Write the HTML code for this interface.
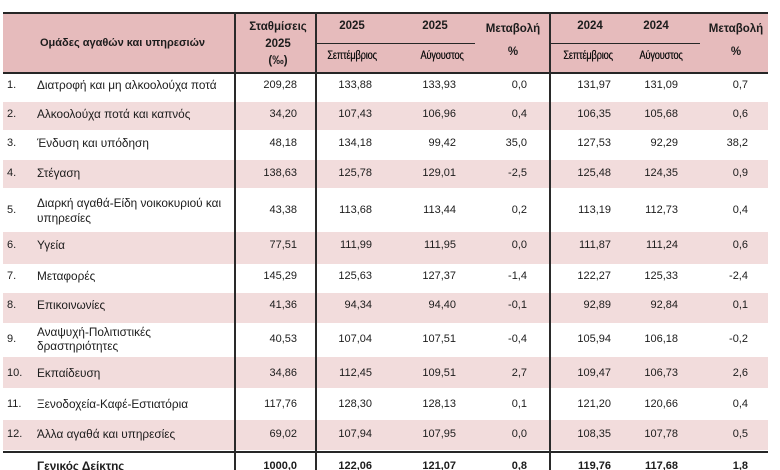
<!DOCTYPE html>
<html>
<head>
<meta charset="utf-8">
<style>
  html,body{margin:0;padding:0;background:#fff;}
  #w{position:relative;width:780px;height:470px;overflow:hidden;background:#fff;
     font-family:"Liberation Sans","DejaVu Sans",sans-serif;color:#1c1c1c;}
  .bg{position:absolute;left:3px;width:765px;}
  .hd{background:#e6bbbc;}
  .pk{background:#f2dcdc;}
  .hl{position:absolute;background:#262626;}
  .vl{position:absolute;width:2px;background:#2a2a2a;top:12px;height:458px;}
  .r{position:absolute;left:0;width:780px;height:15px;font-size:11px;line-height:14px;}
  .r span{position:absolute;top:0;white-space:nowrap;}
  .no{left:7px;}
  .lb{left:37px;font-size:11.8px;}
  .n{width:80px;text-align:right;}
  .c1{left:217px}.c2{left:292px}.c3{left:376px}.c4{left:447px}.c5{left:531px}.c6{left:598px}.c7{left:668px}
  .h{position:absolute;font-weight:bold;font-size:11.5px;line-height:14px;text-align:center;white-space:nowrap;}
  .m{position:absolute;font-size:11.5px;line-height:14px;text-align:center;width:80px;transform:scaleX(0.8);white-space:nowrap;letter-spacing:-0.2px;color:#111;text-shadow:0.3px 0 0 #111;}
  .b{font-weight:bold;}
</style>
</head>
<body>
<div id="w">
  <div class="bg hd" style="top:13px;height:59px;"></div>
  <div class="bg pk" style="top:102px;height:28px;"></div>
  <div class="bg pk" style="top:160px;height:28px;"></div>
  <div class="bg pk" style="top:232px;height:32px;"></div>
  <div class="bg pk" style="top:293px;height:30px;"></div>
  <div class="bg pk" style="top:357px;height:31px;"></div>
  <div class="bg pk" style="top:420px;height:30px;"></div>

  <div class="hl" style="left:3px;width:765px;top:12px;height:2px;"></div>
  <div class="hl" style="left:3px;width:765px;top:72px;height:2px;"></div>
  <div class="hl" style="left:316px;width:159px;top:43px;height:1px;"></div>
  <div class="hl" style="left:550px;width:150px;top:43px;height:1px;"></div>
  <div class="hl" style="left:3px;width:765px;top:451px;height:2px;"></div>

  <div class="vl" style="left:234px;"></div>
  <div class="vl" style="left:315px;"></div>
  <div class="vl" style="left:549px;"></div>

  <div class="h" style="left:0;width:245px;top:36px;font-size:11px;">Ομάδες αγαθών και υπηρεσιών</div>
  <div class="h" style="left:238px;width:80px;top:20px;">Σταθμίσεις</div>
  <div class="h" style="left:238px;width:80px;top:37px;">2025</div>
  <div class="h" style="left:238px;width:80px;top:54px;">(‰)</div>

  <div class="h" style="left:312px;width:80px;top:19px;">2025</div>
  <div class="h" style="left:395px;width:80px;top:19px;">2025</div>
  <div class="h" style="left:473px;width:80px;top:22px;">Μεταβολή</div>
  <div class="h" style="left:473px;width:80px;top:45px;">%</div>
  <div class="h" style="left:550px;width:80px;top:19px;">2024</div>
  <div class="h" style="left:616px;width:80px;top:19px;">2024</div>
  <div class="h" style="left:696px;width:80px;top:22px;">Μεταβολή</div>
  <div class="h" style="left:696px;width:80px;top:45px;">%</div>

  <div class="m" style="left:312px;top:49px;">Σεπτέμβριος</div>
  <div class="m" style="left:402px;top:49px;">Αύγουστος</div>
  <div class="m" style="left:548px;top:49px;">Σεπτέμβριος</div>
  <div class="m" style="left:621px;top:49px;">Αύγουστος</div>

  <div class="r" style="top:78px;"><span class="no">1.</span><span class="lb">Διατροφή και μη αλκοολούχα ποτά</span>
    <span class="n c1">209,28</span><span class="n c2">133,88</span><span class="n c3">133,93</span><span class="n c4">0,0</span><span class="n c5">131,97</span><span class="n c6">131,09</span><span class="n c7">0,7</span></div>

  <div class="r" style="top:107px;"><span class="no">2.</span><span class="lb">Αλκοολούχα ποτά και καπνός</span>
    <span class="n c1">34,20</span><span class="n c2">107,43</span><span class="n c3">106,96</span><span class="n c4">0,4</span><span class="n c5">106,35</span><span class="n c6">105,68</span><span class="n c7">0,6</span></div>

  <div class="r" style="top:136px;"><span class="no">3.</span><span class="lb">Ένδυση και υπόδηση</span>
    <span class="n c1">48,18</span><span class="n c2">134,18</span><span class="n c3">99,42</span><span class="n c4">35,0</span><span class="n c5">127,53</span><span class="n c6">92,29</span><span class="n c7">38,2</span></div>

  <div class="r" style="top:166px;"><span class="no">4.</span><span class="lb">Στέγαση</span>
    <span class="n c1">138,63</span><span class="n c2">125,78</span><span class="n c3">129,01</span><span class="n c4">-2,5</span><span class="n c5">125,48</span><span class="n c6">124,35</span><span class="n c7">0,9</span></div>

  <div class="r" style="top:203px;"><span class="no">5.</span>
    <span class="n c1">43,38</span><span class="n c2">113,68</span><span class="n c3">113,44</span><span class="n c4">0,2</span><span class="n c5">113,19</span><span class="n c6">112,73</span><span class="n c7">0,4</span></div>
  <div class="r" style="top:196px;"><span class="lb">Διαρκή αγαθά-Είδη νοικοκυριού και</span></div>
  <div class="r" style="top:211px;"><span class="lb">υπηρεσίες</span></div>

  <div class="r" style="top:238px;"><span class="no">6.</span><span class="lb">Υγεία</span>
    <span class="n c1">77,51</span><span class="n c2">111,99</span><span class="n c3">111,95</span><span class="n c4">0,0</span><span class="n c5">111,87</span><span class="n c6">111,24</span><span class="n c7">0,6</span></div>

  <div class="r" style="top:269px;"><span class="no">7.</span><span class="lb">Μεταφορές</span>
    <span class="n c1">145,29</span><span class="n c2">125,63</span><span class="n c3">127,37</span><span class="n c4">-1,4</span><span class="n c5">122,27</span><span class="n c6">125,33</span><span class="n c7">-2,4</span></div>

  <div class="r" style="top:298px;"><span class="no">8.</span><span class="lb">Επικοινωνίες</span>
    <span class="n c1">41,36</span><span class="n c2">94,34</span><span class="n c3">94,40</span><span class="n c4">-0,1</span><span class="n c5">92,89</span><span class="n c6">92,84</span><span class="n c7">0,1</span></div>

  <div class="r" style="top:332px;"><span class="no">9.</span>
    <span class="n c1">40,53</span><span class="n c2">107,04</span><span class="n c3">107,51</span><span class="n c4">-0,4</span><span class="n c5">105,94</span><span class="n c6">106,18</span><span class="n c7">-0,2</span></div>
  <div class="r" style="top:325px;"><span class="lb">Αναψυχή-Πολιτιστικές</span></div>
  <div class="r" style="top:339px;"><span class="lb">δραστηριότητες</span></div>

  <div class="r" style="top:366px;"><span class="no">10.</span><span class="lb">Εκπαίδευση</span>
    <span class="n c1">34,86</span><span class="n c2">112,45</span><span class="n c3">109,51</span><span class="n c4">2,7</span><span class="n c5">109,47</span><span class="n c6">106,73</span><span class="n c7">2,6</span></div>

  <div class="r" style="top:397px;"><span class="no">11.</span><span class="lb">Ξενοδοχεία-Καφέ-Εστιατόρια</span>
    <span class="n c1">117,76</span><span class="n c2">128,30</span><span class="n c3">128,13</span><span class="n c4">0,1</span><span class="n c5">121,20</span><span class="n c6">120,66</span><span class="n c7">0,4</span></div>

  <div class="r" style="top:427px;"><span class="no">12.</span><span class="lb">Άλλα αγαθά και υπηρεσίες</span>
    <span class="n c1">69,02</span><span class="n c2">107,94</span><span class="n c3">107,95</span><span class="n c4">0,0</span><span class="n c5">108,35</span><span class="n c6">107,78</span><span class="n c7">0,5</span></div>

  <div class="r b" style="top:459px;"><span class="lb">Γενικός Δείκτης</span>
    <span class="n c1">1000,0</span><span class="n c2">122,06</span><span class="n c3">121,07</span><span class="n c4">0,8</span><span class="n c5">119,76</span><span class="n c6">117,68</span><span class="n c7">1,8</span></div>
</div>
</body>
</html>
